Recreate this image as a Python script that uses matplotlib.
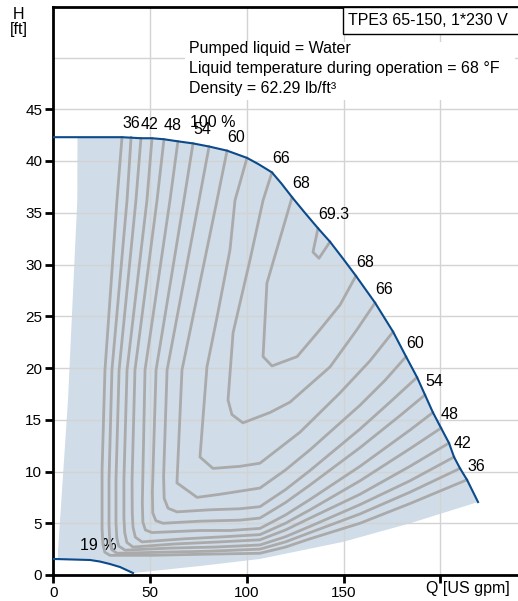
import matplotlib
matplotlib.use("Agg")
import matplotlib.pyplot as plt
from matplotlib.patches import Rectangle

plt.rcParams['font.family'] = ['Liberation Sans', 'DejaVu Sans']

# ---------------- data ----------------
# 100 % speed pump curve
pump_q = [0, 12.5, 25, 35.5, 45.3, 51, 57.2, 64.4, 72.2, 80.5, 89.8, 100.1, 106, 113, 118,
          123.4, 130, 136.8, 143, 150, 156.4, 166.3, 175.6, 182.3, 188, 192.1, 196.2, 200.4,
          204.5, 207.1, 210.2, 213.8, 219.5]
pump_h = [42.3, 42.3, 42.3, 42.3, 42.2, 42.2, 42.1, 41.9, 41.7, 41.4, 41.0, 40.3, 39.7, 38.9, 37.8,
          36.5, 35.0, 33.5, 32.2, 30.5, 28.9, 26.3, 23.5, 21.1, 19.1, 17.4, 15.7, 14.2,
          12.75, 11.4, 10.3, 9.2, 7.05]
# 19 % speed curve
min_q = [0, 19, 24.1, 29.3, 34.5, 41.2]
min_h = [1.55, 1.45, 1.3, 1.06, 0.77, 0.19]
# operating range boundaries
left_q = [12.5, 12.4, 7.6, 2.4, 2.4]
left_h = [42.3, 36.2, 16.9, 2.2, 1.55]
low_q = [41.2, 75.8, 106.8, 149.7, 184.4, 219.5]
low_h = [0.19, 0.87, 1.55, 3.2, 5.0, 7.05]

# efficiency contours [%]
eff36_q = [35.5, 32.9, 26.7, 25.2, 25.2, 25.6, 26.6, 29.3, 50.0, 75.8, 106.8, 120, 132.7, 158.5, 184.3, 213.8]
eff36_h = [42.3, 36.2, 19.8, 10.1, 4.5, 3.0, 2.2, 1.9, 1.9, 2.0, 2.1, 2.7, 3.5, 5.0, 6.9, 9.2]
eff39_q = [40.2, 38.1, 30.3, 28.8, 28.8, 29.2, 30.2, 32.9, 55.1, 81.0, 106.8, 120, 132.7, 158.5, 184.3, 210.2]
eff39_h = [42.3, 36.2, 19.8, 9.2, 4.8, 3.2, 2.45, 2.1, 2.2, 2.3, 2.5, 3.2, 4.1, 5.9, 8.0, 10.3]
eff42_q = [45.3, 42.7, 34.0, 32.4, 32.4, 32.8, 33.8, 37.1, 60.3, 83.6, 106.8, 120, 132.7, 158.5, 184.3, 207.1]
eff42_h = [42.2, 36.2, 19.8, 9.2, 5.0, 3.6, 2.8, 2.4, 2.6, 2.7, 2.9, 3.7, 4.7, 6.8, 9.1, 11.4]
eff45_q = [51.0, 48.4, 38.1, 36.5, 36.5, 36.9, 38.0, 41.2, 62.9, 86.2, 106.8, 120, 132.7, 158.5, 184.3, 204.5]
eff45_h = [42.2, 36.2, 19.8, 9.2, 5.5, 4.1, 3.15, 2.7, 3.0, 3.2, 3.4, 4.35, 5.5, 7.8, 10.5, 12.75]
eff48_q = [57.2, 53.6, 42.2, 40.7, 40.8, 41.2, 42.4, 45.8, 68.1, 88.7, 106.8, 120, 132.7, 158.5, 184.3, 200.4]
eff48_h = [42.1, 36.2, 19.8, 9.2, 6.0, 4.6, 3.65, 3.2, 3.5, 3.7, 3.9, 5.0, 6.3, 9.1, 12.2, 14.2]
eff51_q = [64.4, 60.3, 47.4, 46.0, 46.3, 47.6, 51.0, 75.8, 91.3, 106.8, 120, 132.7, 158.5, 184.3, 196.2]
eff51_h = [41.9, 36.2, 19.8, 7.0, 5.1, 4.35, 4.1, 4.3, 4.3, 4.5, 5.8, 7.3, 10.5, 14.0, 15.7]
eff54_q = [72.2, 67.5, 53.1, 51.2, 51.4, 53.0, 56.7, 75.8, 96.5, 106.8, 120, 132.7, 158.5, 179.2, 192.1]
eff54_h = [41.7, 36.2, 19.8, 8.0, 6.0, 5.25, 5.0, 5.2, 5.3, 5.5, 7.0, 8.7, 12.3, 15.4, 17.4]
eff57_q = [80.5, 75.3, 58.8, 57.0, 57.3, 59.3, 63.9, 81.0, 96.5, 106.8, 120, 132.7, 158.5, 174.0, 188.0]
eff57_h = [41.4, 36.2, 19.8, 9.5, 7.4, 6.45, 6.1, 6.3, 6.4, 6.6, 8.25, 10.1, 14.1, 16.7, 19.1]
eff60_q = [89.8, 84.6, 66.5, 63.9, 74.3, 86.2, 96.5, 106.8, 120, 132.7, 158.5, 171.4, 182.3]
eff60_h = [41.0, 36.2, 19.8, 8.9, 7.5, 7.8, 8.1, 8.4, 10.15, 12.1, 16.4, 18.8, 21.1]
eff63_q = [100.1, 93.9, 91.3, 84.6, 79.4, 75.8, 82.5, 96.5, 106.8, 127.5, 148.2, 163.7, 175.6]
eff63_h = [40.3, 36.2, 31.4, 24.9, 20.1, 11.4, 10.3, 10.5, 10.8, 13.8, 17.6, 20.7, 23.5]
eff66_q = [113.0, 108.4, 101.6, 92.9, 90.3, 92.3, 98.0, 112.0, 122.3, 143.0, 156.9, 166.3]
eff66_h = [38.9, 36.2, 30.4, 23.4, 16.9, 15.5, 14.7, 15.7, 16.7, 20.1, 23.7, 26.3]
eff68_q = [123.4, 110.4, 108.4, 113.0, 126.0, 137.8, 148.2, 156.4]
eff68_h = [36.5, 28.2, 21.1, 20.2, 21.1, 23.7, 26.1, 28.9]
eff693_q = [136.8, 134.2, 137.3, 143.0]
eff693_h = [33.5, 31.2, 30.6, 32.2]

top_labels = ['36', '42', '48', '54', '60', '66', '68', '69.3']
right_labels = ['68', '66', '60', '54', '48', '42', '36']

x_ticks = [0, 50, 100, 150, 200]
x_ticklabels = ['0', '50', '100', '150', '']
y_ticks = [0, 5, 10, 15, 20, 25, 30, 35, 40, 45]

title = 'TPE3 65-150, 1*230 V'
info_lines = ['Pumped liquid = Water',
              'Liquid temperature during operation = 68 \u00b0F',
              'Density = 62.29 lb/ft\u00b3']

# ---------------- figure ----------------
W, H = 518, 601
fig = plt.figure(figsize=(W / 100, H / 100), dpi=100)
x0, y0, x1, y1 = 53.3, 575, 520, 7
ax = fig.add_axes([x0 / W, 1 - y0 / H, (x1 - x0) / W, (y0 - y1) / H])

fs = 11.5
fs_tick = 11
blue = '#0b4a8b'
grey = '#aaaaaa'
shade = '#d0dce8'

# shaded operating area
poly_q = pump_q[1:] + low_q[::-1] + min_q[::-1][:-1] + left_q[::-1]
poly_h = pump_h[1:] + low_h[::-1] + min_h[::-1][:-1] + left_h[::-1]
ax.fill(poly_q, poly_h, color=shade, lw=0, zorder=1)

ax.set_axisbelow('line')
ax.set_xticks(x_ticks)
ax.set_xticklabels(x_ticklabels)
ax.set_yticks(y_ticks)
ax.set_yticks([50], minor=True)
ax.grid(True, which='both', color='#d3d3d3', lw=1.0)
ax.tick_params(axis='both', which='minor', length=0)
ax.tick_params(axis='both', which='major', direction='out', length=6, width=2,
               labelsize=fs_tick, color='black', pad=2)

for s in ['left', 'bottom', 'top']:
    ax.spines[s].set_linewidth(2)
    ax.spines[s].set_color('black')
ax.spines['right'].set_visible(False)

contours = [(eff36_q, eff36_h), (eff39_q, eff39_h), (eff42_q, eff42_h), (eff45_q, eff45_h),
            (eff48_q, eff48_h), (eff51_q, eff51_h), (eff54_q, eff54_h), (eff57_q, eff57_h),
            (eff60_q, eff60_h), (eff63_q, eff63_h), (eff66_q, eff66_h), (eff68_q, eff68_h),
            (eff693_q, eff693_h)]
for q, h in contours:
    ax.plot(q, h, color=grey, lw=2.0, solid_joinstyle='round', solid_capstyle='round',
            zorder=2)

ax.plot(pump_q, pump_h, color=blue, lw=1.5, zorder=3)
ax.plot(min_q, min_h, color=blue, lw=1.5, zorder=3)

# labels at contour ends
top_ends = [contours[i] for i in (0, 2, 4, 6, 8, 10, 11, 12)]
for lab, (q, h) in zip(top_labels, top_ends):
    ax.annotate(lab, (q[0], h[0]), xytext=(0, 6), textcoords='offset pixels',
                ha='left', va='bottom', fontsize=fs, zorder=4)
right_ends = [contours[i] for i in (11, 10, 8, 6, 4, 2, 0)]
for lab, (q, h) in zip(right_labels, right_ends):
    ax.annotate(lab, (q[-1], h[-1]), xytext=(0, 6), textcoords='offset pixels',
                ha='left', va='bottom', fontsize=fs, zorder=4)

ax.text(70.6, 43.0, '100 %', ha='left', va='bottom', fontsize=fs, zorder=1.8)
ax.text(13.8, 2.1, '19 %', ha='left', va='bottom', fontsize=fs, zorder=1.8)

# limits last so that ticks do not widen them
ax.set_xlim(0, (x1 - x0) / 1.935)
ax.set_ylim(0, (y0 - y1) / 10.35)

# axis titles
fig.text(19 / W, 1 - 22 / H, 'H\n[ft]', ha='center', va='center', fontsize=fs,
         linespacing=1.0)
fig.text(426 / W, 1 - 588 / H, 'Q [US gpm]', ha='left', va='center', fontsize=fs)

# info block with white background
fig.patches.append(Rectangle((185 / W, 1 - 100 / H), (515 - 185) / W, 58 / H,
                             transform=fig.transFigure, facecolor='white',
                             edgecolor='none', zorder=5))
for i, line in enumerate(info_lines):
    fig.text(189 / W, 1 - (49 + 20 * i) / H, line, ha='left', va='center',
             fontsize=fs, zorder=6)

# title box
fig.patches.append(Rectangle((343 / W, 1 - 34 / H), (530 - 343) / W, 27 / H,
                             transform=fig.transFigure, facecolor='white',
                             edgecolor='black', lw=1.0, zorder=5))
fig.text(348 / W, 1 - 20.5 / H, title, ha='left', va='center', fontsize=fs, zorder=6)

fig.savefig('out.png', dpi=100)
